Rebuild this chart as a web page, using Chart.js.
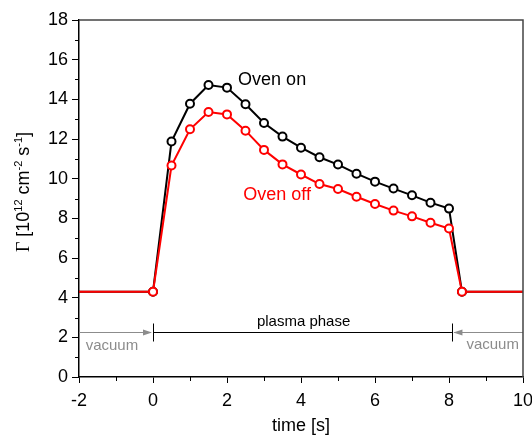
<!DOCTYPE html>
<html>
<head>
<meta charset="utf-8">
<script src="https://cdn.jsdelivr.net/npm/chart.js@4/dist/chart.umd.min.js"></script>
<style>
html,body{margin:0;padding:0;background:#fff;}
canvas{display:block;}
</style>
</head>
<body>
<canvas id="c" width="532" height="437"></canvas>
<script>
// ---- data ----
const timeValues = [-2, 0, 0.5, 1, 1.5, 2, 2.5, 3, 3.5, 4, 4.5, 5, 5.5, 6, 6.5, 7, 7.5, 8, 8.35, 10];
const ovenOn  = [4.3, 4.3, 11.87, 13.78, 14.72, 14.59, 13.75, 12.81, 12.12, 11.56, 11.08, 10.71, 10.25, 9.85, 9.50, 9.16, 8.79, 8.49, 4.3, 4.3];
const ovenOff = [4.3, 4.3, 10.66, 12.49, 13.36, 13.24, 12.42, 11.45, 10.72, 10.21, 9.73, 9.48, 9.09, 8.72, 8.39, 8.10, 7.78, 7.49, 4.3, 4.3];
const seriesNames = ["Oven on", "Oven off"];
const xTickValues = [-2, 0, 2, 4, 6, 8, 10];
const yTickValues = [0, 2, 4, 6, 8, 10, 12, 14, 16, 18];
const plasmaStart = 0, plasmaEnd = 8.08, phaseLevel = 2.25;

const FONT = "'Liberation Sans', Arial, sans-serif";
const pts = (ys) => timeValues.map((x, i) => ({x: x, y: ys[i]}));
const radii = timeValues.map((x, i) => (i === 0 || i === timeValues.length - 1) ? 0 : 4);

const extras = {
  id: 'extras',
  beforeDatasetsDraw(chart) {
    const ctx = chart.ctx, xs = chart.scales.x, ys = chart.scales.y;
    const X = v => xs.getPixelForValue(v), Y = v => ys.getPixelForValue(v);
    const yL = Math.round(Y(phaseLevel)) + 0.5;
    ctx.save();
    // gray arrows
    ctx.strokeStyle = '#8c8c8c'; ctx.fillStyle = '#8c8c8c'; ctx.lineWidth = 1;
    ctx.beginPath(); ctx.moveTo(X(-2), yL); ctx.lineTo(X(plasmaStart) - 2, yL); ctx.stroke();
    let tip = X(plasmaStart) - 1;
    ctx.beginPath(); ctx.moveTo(tip, yL); ctx.lineTo(tip - 9, yL - 3); ctx.lineTo(tip - 9, yL + 3); ctx.closePath(); ctx.fill();
    ctx.beginPath(); ctx.moveTo(X(10), yL); ctx.lineTo(X(plasmaEnd) + 2, yL); ctx.stroke();
    tip = X(plasmaEnd) + 1.5;
    ctx.beginPath(); ctx.moveTo(tip, yL); ctx.lineTo(tip + 9, yL - 3); ctx.lineTo(tip + 9, yL + 3); ctx.closePath(); ctx.fill();
    // black plasma phase line
    ctx.strokeStyle = '#000'; ctx.lineWidth = 1;
    ctx.beginPath(); ctx.moveTo(X(plasmaStart), yL); ctx.lineTo(X(plasmaEnd), yL); ctx.stroke();
    [plasmaStart, plasmaEnd].forEach(v => {
      const px = Math.round(X(v)) + 0.5;
      ctx.beginPath(); ctx.moveTo(px, yL - 9); ctx.lineTo(px, yL + 9); ctx.stroke();
    });
    // annotation texts
    ctx.font = '15px ' + FONT; ctx.textBaseline = 'middle';
    ctx.fillStyle = '#000'; ctx.textAlign = 'center';
    ctx.fillText('plasma phase', X(4.07), Y(2.79));
    ctx.fillStyle = '#8c8c8c'; ctx.textAlign = 'left';
    ctx.fillText('vacuum', X(-1.82), Y(1.58));
    ctx.textAlign = 'right';
    ctx.fillText('vacuum', X(9.89), Y(1.61));
    // series labels
    ctx.font = '18px ' + FONT; ctx.textAlign = 'left';
    ctx.fillStyle = '#000'; ctx.fillText(seriesNames[0], X(2.3), Y(14.98));
    ctx.fillStyle = '#ff0000'; ctx.fillText(seriesNames[1], X(2.44), Y(9.18));
    ctx.restore();
  },
  afterDraw(chart) {
    const ctx = chart.ctx, xs = chart.scales.x, ys = chart.scales.y;
    const a = chart.chartArea;
    ctx.save();
    // frame top/right
    ctx.strokeStyle = '#444'; ctx.lineWidth = 1.5;
    ctx.beginPath(); ctx.moveTo(a.left, a.top); ctx.lineTo(a.right, a.top); ctx.lineTo(a.right, a.bottom); ctx.stroke();
    // minor ticks
    ctx.strokeStyle = '#000'; ctx.lineWidth = 1;
    for (let v = -1; v < 10; v += 2) {
      const px = Math.round(xs.getPixelForValue(v)) + 0.5;
      ctx.beginPath(); ctx.moveTo(px, a.bottom); ctx.lineTo(px, a.bottom + 4); ctx.stroke();
    }
    for (let v = 1; v < 18; v += 2) {
      const py = Math.round(ys.getPixelForValue(v)) + 0.5;
      ctx.beginPath(); ctx.moveTo(a.left, py); ctx.lineTo(a.left - 4, py); ctx.stroke();
    }
    // y axis title with superscripts
    const parts = [
      {t: 'Γ', f: "18px 'Liberation Serif', 'Times New Roman', serif", dy: 0},
      {t: ' [10', f: '18px ' + FONT, dy: 0},
      {t: '12', f: '11px ' + FONT, dy: -7},
      {t: ' cm', f: '18px ' + FONT, dy: 0},
      {t: '-2', f: '11px ' + FONT, dy: -7},
      {t: ' s', f: '18px ' + FONT, dy: 0},
      {t: '-1', f: '11px ' + FONT, dy: -7},
      {t: ']', f: '18px ' + FONT, dy: 0}
    ];
    let total = 0;
    parts.forEach(p => { ctx.font = p.f; p.w = ctx.measureText(p.t).width; total += p.w; });
    ctx.translate(29, 192);
    ctx.rotate(-Math.PI / 2);
    ctx.fillStyle = '#000'; ctx.textAlign = 'left'; ctx.textBaseline = 'alphabetic';
    let cx = -total / 2;
    parts.forEach(p => { ctx.font = p.f; ctx.fillText(p.t, cx, p.dy); cx += p.w; });
    ctx.restore();
  }
};

new Chart(document.getElementById('c'), {
  type: 'line',
  data: {
    datasets: [
      {label: seriesNames[1], data: pts(ovenOff), borderColor: '#ff0000', backgroundColor: '#ffffff',
       borderWidth: 2, pointRadius: radii, pointBorderWidth: 2, pointBackgroundColor: '#ffffff', pointBorderColor: '#ff0000', tension: 0},
      {label: seriesNames[0], data: pts(ovenOn), borderColor: '#000000', backgroundColor: '#ffffff',
       borderWidth: 2, pointRadius: radii, pointBorderWidth: 2, pointBackgroundColor: '#ffffff', pointBorderColor: '#000000', tension: 0}
    ]
  },
  options: {
    responsive: false,
    animation: false,
    devicePixelRatio: 1,
    layout: {padding: {left: 0, right: 0, top: 20, bottom: 0}},
    plugins: {legend: {display: false}, tooltip: {enabled: false}},
    scales: {
      x: {
        type: 'linear', min: -2, max: 10,
        afterBuildTicks: s => { s.ticks = xTickValues.map(v => ({value: v})); },
        ticks: {font: {size: 18, family: FONT}, color: '#000', padding: 7, maxRotation: 0},
        grid: {drawOnChartArea: false, tickLength: 6, color: '#000', tickWidth: 1},
        border: {color: '#000', width: 1.5},
        title: {display: true, text: 'time [s]', font: {size: 18, family: FONT}, color: '#000', padding: {top: 0, bottom: 0}},
        afterFit: s => { s.height = 60; s.paddingRight = 9; s.paddingLeft = 0; }
      },
      y: {
        type: 'linear', min: 0, max: 18,
        afterBuildTicks: s => { s.ticks = yTickValues.map(v => ({value: v})); },
        ticks: {font: {size: 18, family: FONT}, color: '#000', padding: 4},
        grid: {drawOnChartArea: false, tickLength: 7, color: '#000', tickWidth: 1},
        border: {color: '#000', width: 1.5},
        afterFit: s => { s.width = 79; s.paddingTop = 0; s.paddingBottom = 0; }
      }
    }
  },
  plugins: [extras]
});
</script>
</body>
</html>
